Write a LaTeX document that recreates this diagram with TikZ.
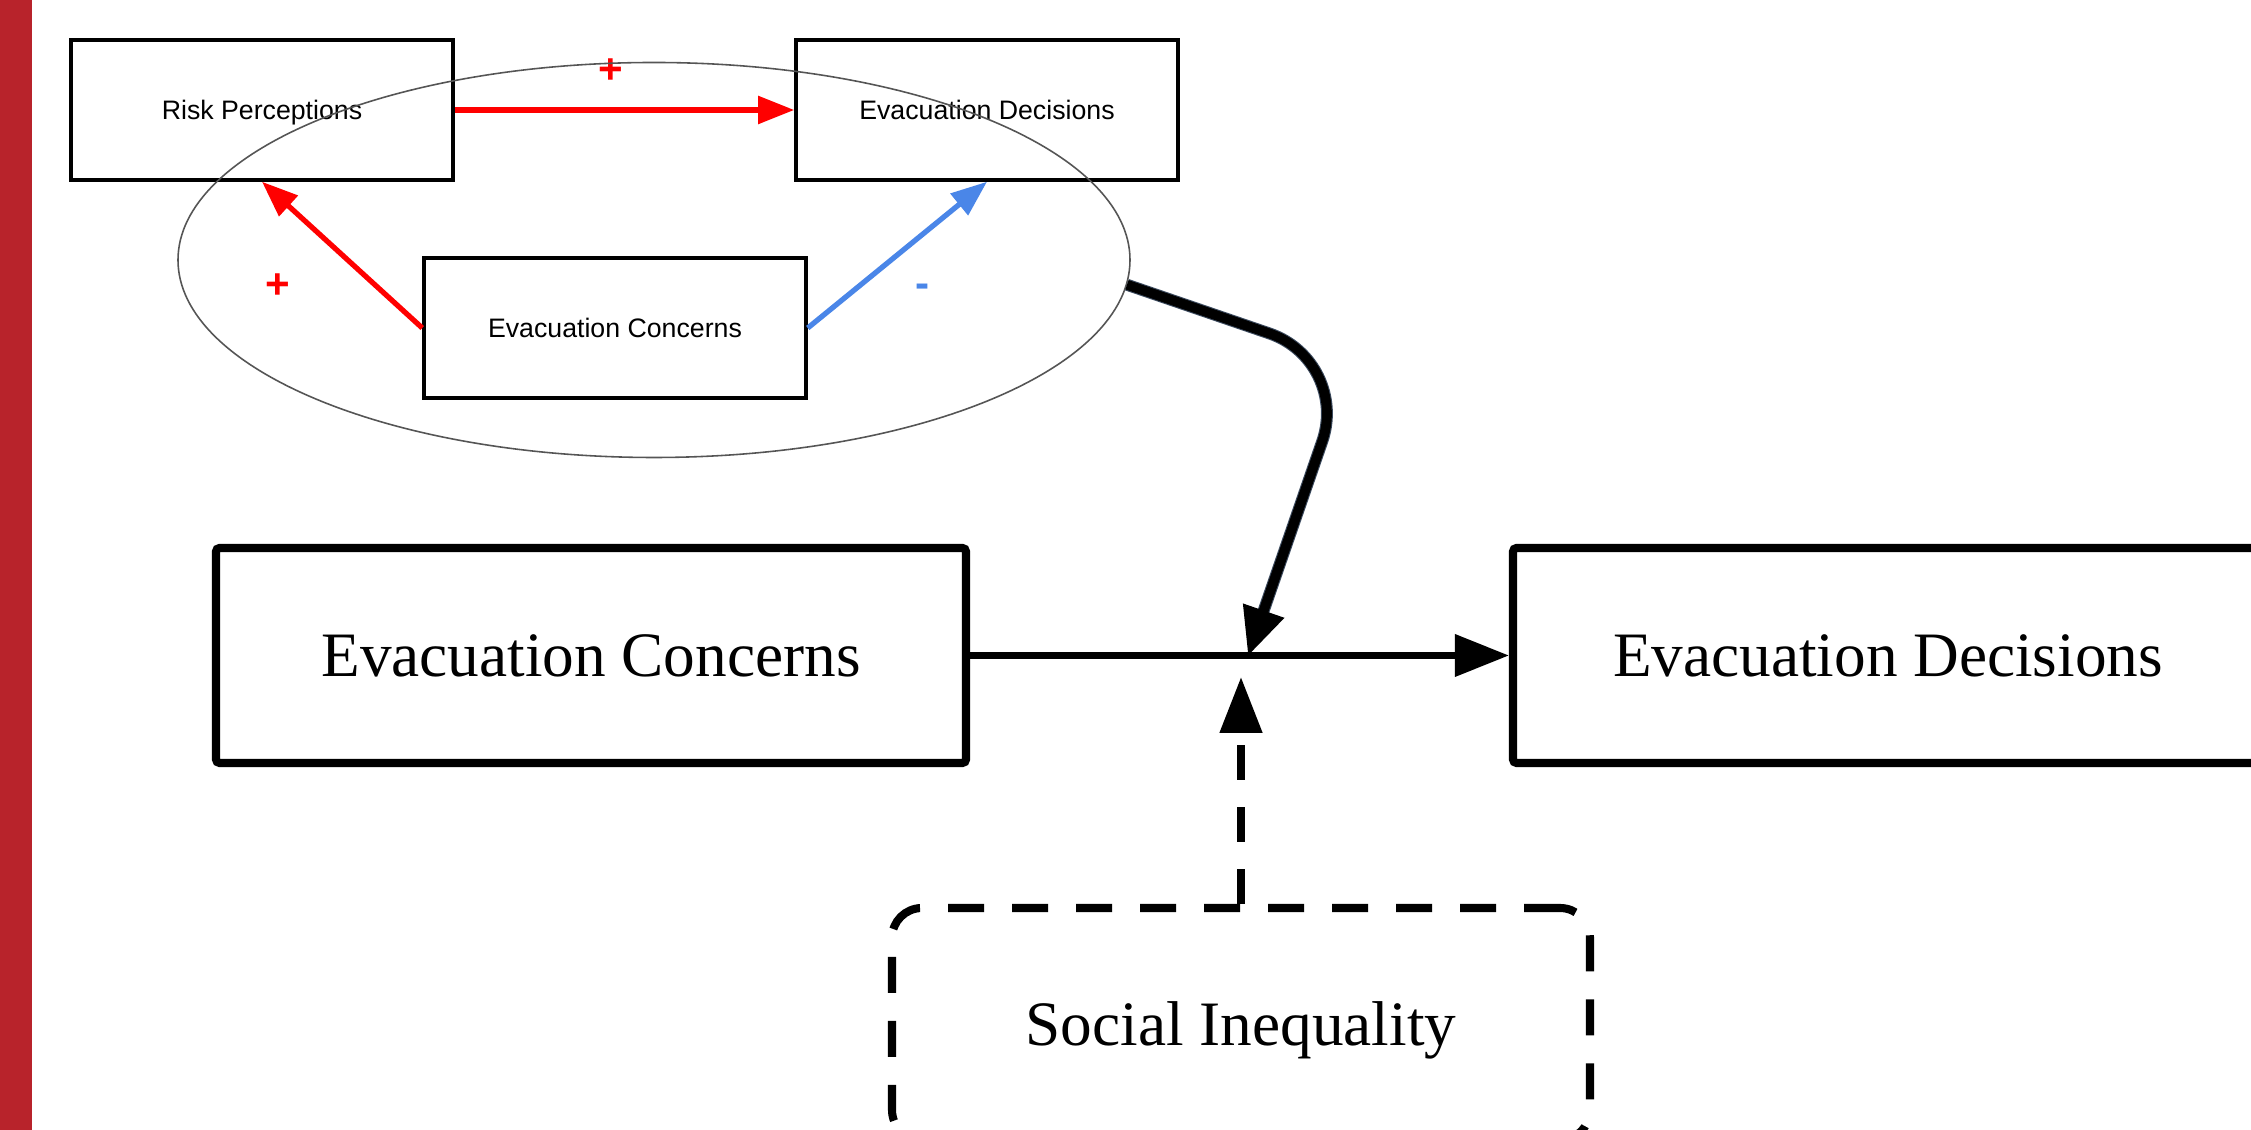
\documentclass[tikz,border=0pt]{standalone}
\usepackage{fontspec}
\setmainfont{Liberation Serif}
\newfontfamily\arialfont{Liberation Sans}
\usetikzlibrary{arrows.meta,shapes.geometric}

\definecolor{barred}{RGB}{184,35,43}
\definecolor{linkred}{RGB}{255,0,0}
\definecolor{linkblue}{RGB}{74,134,232}
\definecolor{rimgray}{RGB}{85,85,85}
\definecolor{slateedge}{RGB}{60,75,95}

\tikzset{
  smallbox/.style={draw, line width=1pt, minimum width=3.82cm, minimum height=1.40cm,
    inner sep=0pt, text depth=0pt, font=\arialfont\fontsize{7.6}{9}\selectfont},
  bigbox/.style={draw, line width=2.3pt, rounded corners=1pt, minimum width=7.50cm,
    minimum height=2.15cm, inner sep=0pt, text depth=0pt, font=\fontsize{18}{22}\selectfont},
  sign/.style={font=\arialfont\bfseries\fontsize{12}{14}\selectfont},
  smallarrow/.style={line width=1.5pt, -{Triangle[length=0.36cm,width=0.27cm]}},
}

\begin{document}
\begin{tikzpicture}[x=1cm, y=-1cm]
    \clip (0,0) rectangle (22.51,11.30);
    \fill[white] (0,0) rectangle (22.51,11.30);

    % Side bar
    \fill[barred] (0,0) rectangle (0.32,11.30);

    % Upper loop
    \node[smallbox] (rp) at (2.62,1.10) {Risk Perceptions};
    \node[smallbox] (ed) at (9.87,1.10) {Evacuation Decisions};
    \node[smallbox] (ec) at (6.15,3.28) {Evacuation Concerns};

    \draw[smallarrow, linkred] (rp) -- (ed);
    \draw[smallarrow, linkred] (ec.west) -- (rp.south);
    \draw[smallarrow, linkblue] (ec.east) -- (ed.south);

    \node[sign, linkred] (s1) at (6.11,0.71) {+};
    \node[sign, linkred] (s2) at (2.78,2.86) {+};
    \node[sign, linkblue] (s3) at (9.23,2.91) {-};

    \node[draw=rimgray, line width=0.45pt, ellipse, minimum width=9.52cm,
          minimum height=3.95cm] (loop) at (6.54,2.60) {};

    % Main path
    \node[bigbox] (bigec) at (5.91,6.555) {Evacuation Concerns};
    \node[bigbox] (biged) at (18.88,6.555) {Evacuation Decisions};
    \draw[line width=2pt, -{Triangle[length=0.54cm,width=0.41cm]}] (bigec) -- (biged);

    % Moderator
    \node[draw, line width=2.3pt, rounded corners=0.3cm, dash pattern=on 0.36cm off 0.28cm,
          minimum width=6.98cm, minimum height=2.32cm, text depth=0pt,
          font=\fontsize{18}{22}\selectfont]
          (si) at (12.41,10.24) {Social Inequality};
    \coordinate (siup) at (12.41,6.77);
    \draw[line width=2.3pt, dash pattern=on 0.35cm off 0.27cm,
          -{Triangle[length=0.56cm,width=0.41cm]}] (si.north) -- (siup);

    % Loop acting on the main path
    \coordinate (bend) at (13.50,3.61);
    \coordinate (mod) at (12.48,6.56);
    \draw[line width=2.8pt, rounded corners=0.85cm,
          preaction={draw=slateedge, line width=3.4pt, -, shorten >=0.4cm},
          -{Triangle[length=0.48cm,width=0.41cm]}] (loop.-3) -- (bend) -- (mod);
\end{tikzpicture}
\end{document}
